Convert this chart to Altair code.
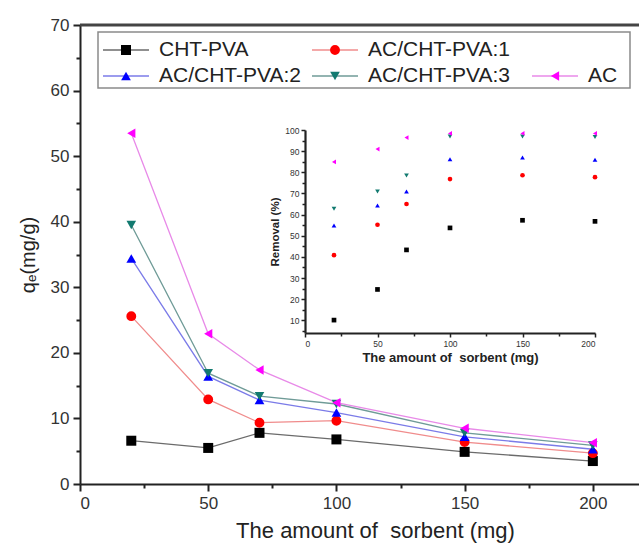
import altair as alt
import pandas as pd

# ---- data -------------------------------------------------------------
dose = [20, 50, 70, 100, 150, 200]  # amount of sorbent (mg)
series = ["CHT-PVA", "AC/CHT-PVA:1", "AC/CHT-PVA:2", "AC/CHT-PVA:3", "AC"]

# adsorption capacity q_e (mg/g)
qe_cht = [6.6, 5.5, 7.8, 6.8, 4.9, 3.5]
qe_ac1 = [25.6, 12.9, 9.35, 9.65, 6.4, 4.7]
qe_ac2 = [34.4, 16.4, 12.8, 10.9, 7.2, 5.3]
qe_ac3 = [39.5, 16.9, 13.4, 12.2, 7.8, 5.9]
qe_ac = [53.5, 22.9, 17.4, 12.4, 8.5, 6.3]

# removal efficiency (%)
rem_cht = [10.1, 24.6, 43.3, 53.7, 57.3, 56.8]
rem_ac1 = [40.8, 55.2, 65.0, 76.8, 78.6, 77.7]
rem_ac2 = [54.8, 64.3, 70.9, 86.2, 87.0, 85.9]
rem_ac3 = [62.8, 70.9, 78.5, 96.9, 96.9, 96.7]
rem_ac = [84.9, 91.0, 96.4, 98.4, 98.4, 98.4]

qe_all = [qe_cht, qe_ac1, qe_ac2, qe_ac3, qe_ac]
rem_all = [rem_cht, rem_ac1, rem_ac2, rem_ac3, rem_ac]

# ---- styles -----------------------------------------------------------
marker_colors = ["#000000", "#ff0000", "#0000ff", "#127a70", "#ff00ff"]
line_colors = ["#6b6b6b", "#f08c8c", "#7b7be8", "#6f9b97", "#e88ae8"]
shapes = ["square", "circle", "triangle-up", "triangle-down", "triangle-left"]
main_sizes = [100, 90, 120, 120, 140]
inset_sizes = [22, 22, 28, 28, 30]
FONT = "Liberation Sans"
X_TITLE = "The amount of\u00a0 sorbent (mg)"

rows = []
for s, q, r in zip(series, qe_all, rem_all):
    for d, qv, rv in zip(dose, q, r):
        rows.append({"series": s, "dose": d, "qe": qv, "removal": rv})
df = pd.DataFrame(rows)

# ---- geometry ---------------------------------------------------------
W, H = 559, 459
inset_x_range = [225, 515]
inset_y_range = [308, 105]

x_main = alt.Scale(domain=[0, 218], nice=False, zero=False)
y_main = alt.Scale(domain=[0, 70], nice=False)
x_ins = alt.Scale(domain=[0, 200], range=inset_x_range, nice=False)
y_ins = alt.Scale(domain=[4, 100], range=inset_y_range, nice=False, zero=False)

line_color = alt.Color("series:N", scale=alt.Scale(domain=series, range=line_colors), legend=None)
mark_color = alt.Color("series:N", scale=alt.Scale(domain=series, range=marker_colors), legend=None)
mark_shape = alt.Shape("series:N", scale=alt.Scale(domain=series, range=shapes), legend=None)

axis_common = dict(grid=False, domainColor="#222", tickColor="#222", labelColor="#333",
                   titleColor="#222", labelFont=FONT, titleFont=FONT)

# ---- main chart -------------------------------------------------------
main_lines = alt.Chart(df).mark_line(strokeWidth=1.3).encode(
    x=alt.X("dose:Q", scale=x_main,
            axis=alt.Axis(orient="bottom", values=[0, 50, 100, 150, 200], tickSize=7,
                          tickWidth=2, domainWidth=2, labelFontSize=17, labelPadding=4,
                          title=X_TITLE, titleFontSize=22,
                          titleFontWeight="normal", titlePadding=9, titleX=295,
                          **axis_common)),
    y=alt.Y("qe:Q", scale=y_main,
            axis=alt.Axis(orient="left", values=list(range(0, 71, 10)), tickSize=7,
                          tickWidth=2, domainWidth=2, labelFontSize=17, labelPadding=4,
                          title="qₑ(mg/g)", titleFontSize=20, titleFontWeight="normal",
                          titlePadding=12, **axis_common)),
    color=line_color,
    detail="series:N",
)

main_points = alt.Chart(df).mark_point(filled=True, opacity=1, strokeWidth=0).encode(
    x=alt.X("dose:Q", scale=x_main, axis=None),
    y=alt.Y("qe:Q", scale=y_main, axis=None),
    color=mark_color,
    shape=mark_shape,
    size=alt.Size("series:N", scale=alt.Scale(domain=series, range=main_sizes), legend=None),
)

main_minor = alt.Chart(df).mark_point(opacity=0).encode(
    x=alt.X("dose:Q", scale=x_main,
            axis=alt.Axis(orient="bottom", values=[25, 75, 125, 175, 225], labels=False,
                          domain=False, tickSize=4, tickWidth=2, title=None, **axis_common)),
    y=alt.Y("qe:Q", scale=y_main,
            axis=alt.Axis(orient="left", values=list(range(5, 70, 10)), labels=False,
                          domain=False, tickSize=4, tickWidth=2, title=None, **axis_common)),
)

# ---- inset: removal efficiency ---------------------------------------
inset_points = alt.Chart(df).mark_point(filled=True, opacity=1, strokeWidth=0).encode(
    x=alt.X("dose:Q", scale=x_ins,
            axis=alt.Axis(orient="bottom", offset=-(H - inset_y_range[0]),
                          values=[0, 50, 100, 150, 200], tickSize=4, tickWidth=1.5,
                          domainWidth=2.2, labelFontSize=8.5, labelPadding=2,
                          title=X_TITLE, titleFontSize=13,
                          titleFontWeight="bold", titlePadding=4, **axis_common)),
    y=alt.Y("removal:Q", scale=y_ins,
            axis=alt.Axis(orient="left", offset=-inset_x_range[0],
                          values=list(range(10, 101, 10)), tickSize=4, tickWidth=1.5,
                          domainWidth=2.2, labelFontSize=8.5, labelPadding=2,
                          title="Removal (%)", titleFontSize=11.5, titleFontWeight="bold",
                          titlePadding=4, **axis_common)),
    color=mark_color,
    shape=mark_shape,
    size=alt.Size("series:N", scale=alt.Scale(domain=series, range=inset_sizes), legend=None),
)

inset_minor = alt.Chart(df).mark_point(opacity=0).encode(
    x=alt.X("dose:Q", scale=x_ins,
            axis=alt.Axis(orient="bottom", offset=-(H - inset_y_range[0]),
                          values=[25, 75, 125, 175], labels=False, domain=False,
                          tickSize=3, tickWidth=1.5, title=None, **axis_common)),
    y=alt.Y("removal:Q", scale=y_ins,
            axis=alt.Axis(orient="left", offset=-inset_x_range[0],
                          values=list(range(5, 100, 10)), labels=False, domain=False,
                          tickSize=3, tickWidth=1.5, title=None, **axis_common)),
)

# ---- legend (two rows: 2 + 3 entries) ---------------------------------
col_x = [46, 255, 475]
row_y = [25, 51]
slots = [(0, 0), (0, 1), (1, 0), (1, 1), (1, 2)]
leg = pd.DataFrame({
    "series": series,
    "mx": [col_x[c] for r, c in slots],
    "my": [row_y[r] for r, c in slots],
})
leg["lx0"] = leg["mx"] - 23
leg["lx1"] = leg["mx"] + 23
leg["tx"] = leg["mx"] + 33

legend_box = alt.Chart(pd.DataFrame({"k": [0]})).mark_rect(
    fill="white", stroke="#8a8a8a", strokeWidth=1.5
).encode(x=alt.value(18), x2=alt.value(550), y=alt.value(7), y2=alt.value(63))

legend_lines = alt.Chart(leg).mark_rule(strokeWidth=1.3).encode(
    x=alt.X("lx0:Q", scale=None, axis=None), x2="lx1:Q",
    y=alt.Y("my:Q", scale=None, axis=None),
    color=line_color,
)
legend_marks = alt.Chart(leg).mark_point(filled=True, opacity=1, strokeWidth=0).encode(
    x=alt.X("mx:Q", scale=None, axis=None),
    y=alt.Y("my:Q", scale=None, axis=None),
    color=mark_color,
    shape=mark_shape,
    size=alt.Size("series:N", scale=alt.Scale(domain=series, range=main_sizes), legend=None),
)
legend_text = alt.Chart(leg).mark_text(
    align="left", baseline="middle", fontSize=21, font=FONT, color="#222"
).encode(
    x=alt.X("tx:Q", scale=None, axis=None),
    y=alt.Y("my:Q", scale=None, axis=None),
    text="series:N",
)

top_border = alt.Chart(pd.DataFrame({"k": [0]})).mark_rule(
    color="#444", strokeWidth=3
).encode(x=alt.value(0), x2=alt.value(W + 2), y=alt.value(0))

chart = alt.layer(
    main_lines, main_points, main_minor,
    inset_points, inset_minor,
    legend_box, legend_lines, legend_marks, legend_text,
    top_border,
).resolve_scale(
    x="independent", y="independent", color="independent",
    shape="independent", size="independent",
).resolve_axis(
    x="independent", y="independent",
).properties(
    width=W, height=H,
    autosize=alt.AutoSizeParams(type="none"),
    padding={"left": 80, "top": 25, "right": 0, "bottom": 65},
    background="white",
).configure_view(stroke=None)

chart.save("out.html", embed_options={"renderer": "svg", "actions": False})
